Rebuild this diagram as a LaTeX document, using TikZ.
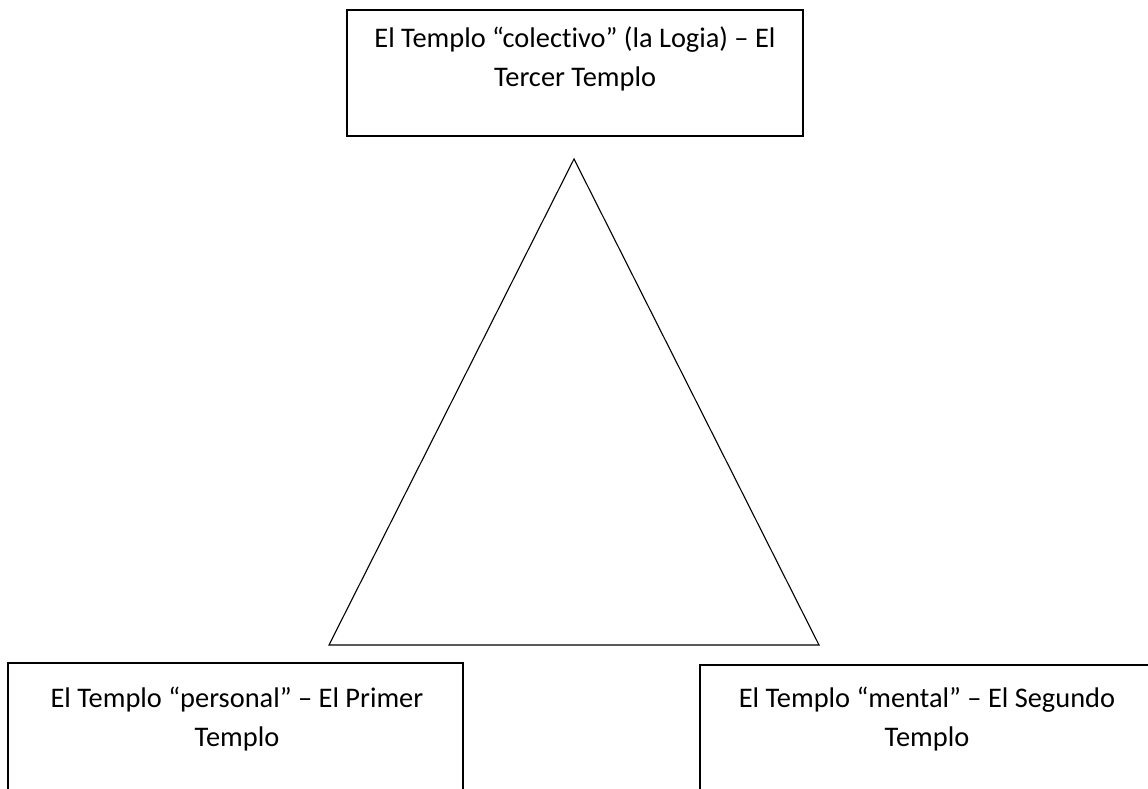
\documentclass[tikz,border=0pt]{standalone}
\usepackage{fontspec}
\setmainfont{Carlito}[Ligatures={NoCommon}]
\begin{document}
\begin{tikzpicture}[x=1pt,y=1pt,
  boxline/.style={draw=black,line width=1.4pt},
  tri/.style={draw=black,line width=1.1pt,line join=miter},
  lbl/.style={inner sep=0pt,align=center,anchor=base,font=\fontsize{28.4}{39}\selectfont}]
\useasboundingbox (0,0) rectangle (1148,789);
% boxes
\path[boxline] (347,779) rectangle (803,653);
\path[boxline] (8,126) rectangle (463,-40);
\path[boxline] (700,124) rectangle (1156,-40);
% triangle
\coordinate (apex) at (574,630);
\coordinate (bl) at (329,144);
\coordinate (br) at (819,144);
\draw[tri] (apex) -- (br) -- (bl) -- cycle;
% texts (anchor base = baseline of the last line)
\node[lbl] (ttop) at (575,702) {El Templo “colectivo” (la Logia) – El\\Tercer Templo};
\node[lbl] (tleft) at (237,42) {El Templo “personal” – El Primer\\Templo};
\node[lbl] (tright) at (927,42) {El Templo “mental” – El Segundo\\Templo};
\end{tikzpicture}
\end{document}
